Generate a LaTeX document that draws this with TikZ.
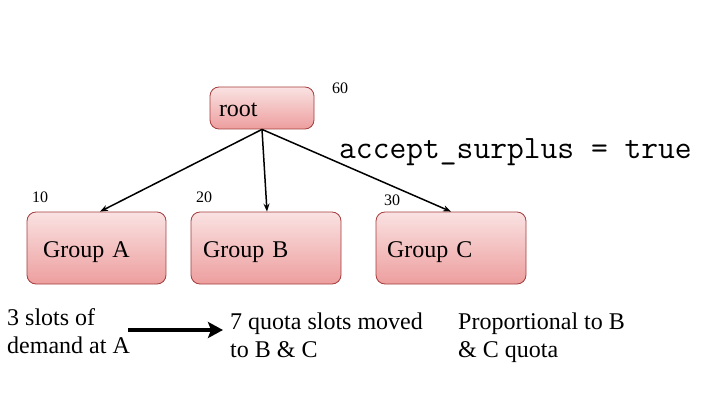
\documentclass[tikz,border=0pt]{standalone}
\usepackage{fontspec}
\setmainfont{Liberation Serif}
\usetikzlibrary{arrows.meta}

\definecolor{boxtop}{RGB}{250,226,226}
\definecolor{boxbottom}{RGB}{237,158,158}
\definecolor{boxedge}{RGB}{165,60,60}

\begin{document}
\begin{tikzpicture}[x=1pt, y=1pt, >={Stealth[length=8pt,width=6pt]},
    grp/.style={draw=boxedge, line width=0.8pt, rounded corners=9pt,
      top color=boxtop, bottom color=boxbottom, minimum height=72pt,
      inner ysep=0pt, text height=23pt, text depth=5pt, align=left,
      font=\fontsize{24}{28}\selectfont},
    num/.style={inner sep=0pt, font=\fontsize{16}{18}\selectfont},
    note/.style={anchor=west, align=left, inner sep=0pt,
      font=\fontsize{24}{28}\selectfont}]
  \useasboundingbox (0,0) rectangle (720,405);
  \node[grp, minimum height=42pt, text width=86pt, inner xsep=9pt] (root) at (262,297) {root};
  \node[grp, text width=107pt, inner xsep=16pt] (A) at (96.5,157) {Group A};
  \node[grp, text width=126pt, inner xsep=12pt] (B) at (266,157) {Group B};
  \node[grp, text width=128pt, inner xsep=11pt] (C) at (451,157) {Group C};
  \node[num] (n60) at (340,317) {60};
  \node[num] (n10) at (40,208) {10};
  \node[num] (n20) at (204,208) {20};
  \node[num] (n30) at (392,205) {30};
  \node[anchor=base west, inner sep=0pt, font=\fontsize{32.6}{34}\ttfamily] (flag) at (339,247) {accept\_surplus = true};
  \draw[->, line width=1.5pt] (root.south) -- ([xshift=3.5pt]A.north);
  \draw[->, line width=1.5pt] (root.south) -- ([xshift=1pt]B.north);
  \draw[->, line width=1.5pt] (root.south) -- (C.north);
  \node[note] (demand) at (7,74) {3 slots of\\demand at A};
  \node[note] (moved) at (230,70) {7 quota slots moved\\to B \& C};
  \node[note] (prop) at (458,67) {Proportional to B\\\& C quota};
  \coordinate (s) at (128,75);
  \coordinate (e) at (223,75);
  \draw[-{Stealth[length=15pt,width=16pt,inset=3pt]}, line width=4pt] (s) -- (e);
\end{tikzpicture}
\end{document}
